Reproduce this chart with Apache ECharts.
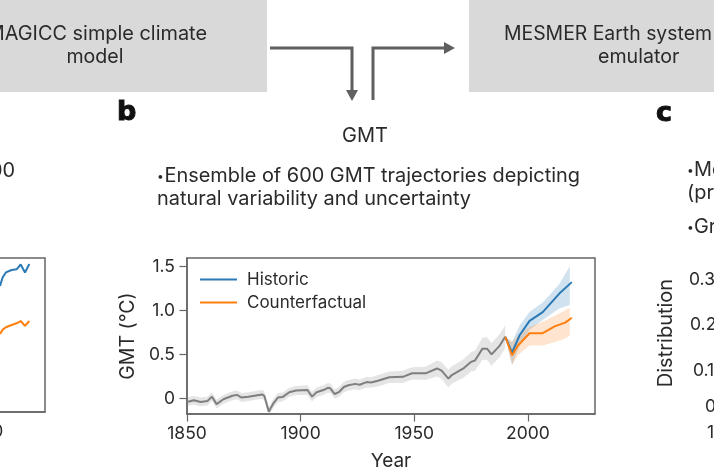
<!DOCTYPE html>
<html><head><meta charset="utf-8">
<style>html,body{margin:0;padding:0;background:#fff}#c{width:714px;height:471px}</style>
<script src="https://cdn.jsdelivr.net/npm/echarts@6/dist/echarts.min.js"></script>
</head><body><div id="c"></div>
<script>
const greyYears=[1850,1853,1856,1859,1861,1863,1866,1870,1872,1874,1877,1883,1884,1886,1888,1890,1892,1895,1898,1903,1905,1907,1910,1912,1913,1915,1917,1919,1921,1924,1926,1929,1931,1934,1939,1945,1949,1955,1960,1962,1965,1966.5,1971.6,1975,1976.7,1980,1982,1984,1987.6,1990];
const greyMean=[-0.04,-0.02,-0.04,-0.03,0.02,-0.065,-0.01,0.03,0.04,0.01,0.02,0.045,0.03,-0.15,-0.055,0.01,0.015,0.07,0.09,0.095,0.02,0.07,0.095,0.12,0.115,0.05,0.075,0.13,0.15,0.165,0.155,0.185,0.18,0.2,0.24,0.245,0.285,0.285,0.34,0.315,0.225,0.265,0.34,0.415,0.43,0.565,0.565,0.5,0.6,0.7];
const greyLow=[-0.09,-0.07,-0.09,-0.08,-0.03,-0.115,-0.06,-0.02,-0.01,-0.04,-0.03,-0.005,-0.02,-0.2,-0.105,-0.04,-0.035,0.02,0.04,0.04,-0.035,0.015,0.04,0.065,0.06,-0.005,0.02,0.07,0.09,0.105,0.095,0.125,0.12,0.135,0.175,0.175,0.215,0.21,0.25,0.22,0.125,0.165,0.235,0.305,0.315,0.44,0.435,0.37,0.47,0.57];
const greyHigh=[0.01,0.03,0.01,0.02,0.07,-0.015,0.04,0.08,0.09,0.06,0.07,0.095,0.08,-0.1,-0.005,0.06,0.065,0.12,0.14,0.15,0.075,0.125,0.15,0.175,0.17,0.105,0.13,0.19,0.21,0.225,0.215,0.245,0.24,0.265,0.305,0.315,0.355,0.36,0.43,0.41,0.325,0.365,0.445,0.525,0.545,0.69,0.695,0.63,0.73,0.83];
const futureYears=[1990,1993,1996.4,2000.7,2006.5,2013.8,2019.3];
const blueMean=[0.7,0.52,0.72,0.88,0.98,1.19,1.32];
const bandYears=[1990,1993,1996.4,2000.7,2006.5,2013.8,2018.4];
const blueLow=[0.7,0.38,0.6,0.78,0.89,1.02,1.06];
const blueHigh=[0.7,0.64,0.83,0.98,1.09,1.3,1.5];
const orangeYears=[1990,1993,1995.6,2000.7,2006.5,2012,2016.4,2019.3];
const orangeMean=[0.7,0.49,0.6,0.74,0.74,0.82,0.86,0.915];
const orangeBandYears=[1990,1993,1995.6,2000.7,2006.5,2012,2016.4,2018.4];
const orangeLow=[0.7,0.38,0.49,0.6,0.6,0.64,0.68,0.71];
const orangeHigh=[0.7,0.64,0.72,0.81,0.87,0.94,1.0,1.03];
const leftYears=[2008.2,2009.4,2010.8,2013.3,2015.5,2017.3,2019.2,2021.1];
const leftBlue=[1.276,1.375,1.43,1.458,1.465,1.52,1.43,1.525];
const leftOrange=[0.731,0.78,0.807,0.833,0.852,0.878,0.822,0.878];
const xTicks=[1850,1900,1950,2000];
const yTicks=[0,0.5,1,1.5];
const yLabels={0:'0',0.5:'0.5',1:'1.0',1.5:'1.5'};
const rightTicks=[['0.3',689,280],['0.2',690,325],['0.1',693,371],['0',705,407],['1',707,433]];

const FONT='Inter';
const AX='#666666', TXT='#2a2a2a', BLUE='#2a7ab5', ORANGE='#ff7f0e', GREY='#7f7f7f';
const zip=(x,y)=>x.map((v,i)=>[v,y[i]]);
function band(name,xs,lo,hi,color,op){
  return {name,type:'custom',coordinateSystem:'cartesian2d',xAxisIndex:0,yAxisIndex:0,silent:true,z:2,
    data:xs.map((x,i)=>[x,lo[i],hi[i]]),encode:{x:0,y:[1,2]},clip:true,
    renderItem(params,api){
      if(params.dataIndex!==0) return null;
      const up=xs.map((x,i)=>api.coord([x,hi[i]]));
      const dn=xs.map((x,i)=>api.coord([x,lo[i]])).reverse();
      return {type:'polygon',shape:{points:up.concat(dn)},style:{fill:color,opacity:op}};
    }};
}
const ln=(name,xs,ys,color,xi,z)=>({name,type:'line',data:zip(xs,ys),symbol:'none',itemStyle:{color},lineStyle:{color,width:2},z:z||3,xAxisIndex:xi,yAxisIndex:xi});
const txt=(t,x,y,size,extra)=>({type:'text',x,y,silent:true,style:Object.assign({text:t,fontFamily:FONT,fontSize:size,fill:TXT,textAlign:'left',textVerticalAlign:'middle'},extra||{})});
const poly=(pts)=>({type:'polyline',silent:true,shape:{points:pts},style:{stroke:'#5f5f5f',lineWidth:3,fill:null}});
const head=(pts)=>({type:'polygon',silent:true,shape:{points:pts},style:{fill:'#5f5f5f'}});

const chart=echarts.init(document.getElementById('c'),null,{renderer:'canvas'});
const axisCommon={axisLine:{show:true,onZero:false,lineStyle:{color:AX,width:1.5}},splitLine:{show:false}};
const tickStyle={show:true,length:7.5,lineStyle:{color:AX,width:1.2}};
const xTickFont={color:TXT,fontSize:17.5,fontFamily:FONT,margin:11};
const yTickFont={color:TXT,fontSize:17.5,fontFamily:FONT,margin:12};
chart.setOption({
  animation:false,backgroundColor:'#fff',
  textStyle:{fontFamily:FONT},
  grid:[
    {left:187,top:258,width:408,height:156,show:true,borderColor:AX,borderWidth:1.5,outerBoundsMode:'none'},
    {left:-359.6,top:258,width:404.6,height:154,show:true,borderColor:AX,borderWidth:1.5,outerBoundsMode:'none'}
  ],
  xAxis:[
    Object.assign({},axisCommon,{type:'value',gridIndex:0,min:1850,max:2029.5,interval:50,
      axisTick:Object.assign({customValues:xTicks},tickStyle),
      axisLabel:Object.assign({customValues:xTicks,formatter:v=>String(v)},xTickFont),
      name:'Year',nameLocation:'middle',nameGap:38,nameTextStyle:{color:TXT,fontSize:19,fontFamily:FONT}}),
    Object.assign({},axisCommon,{type:'value',gridIndex:1,min:1850,max:2028,interval:50,
      axisTick:Object.assign({customValues:xTicks},tickStyle),
      axisLabel:Object.assign({customValues:xTicks,formatter:v=>String(v),hideOverlap:false},xTickFont)})
  ],
  yAxis:[
    Object.assign({},axisCommon,{type:'value',gridIndex:0,min:-0.177,max:1.594,
      axisTick:Object.assign({customValues:yTicks},tickStyle),
      axisLabel:Object.assign({customValues:yTicks,formatter:v=>yLabels[v]},yTickFont),
      name:'GMT (°C)',nameLocation:'middle',nameRotate:90,nameGap:49,nameTextStyle:{color:TXT,fontSize:19.5,fontFamily:FONT}}),
    Object.assign({},axisCommon,{type:'value',gridIndex:1,min:-0.156,max:1.594,axisTick:{show:false},axisLabel:{show:false}})
  ],
  legend:{show:true,data:['Historic','Counterfactual'],orient:'vertical',left:195,top:266,itemWidth:37,itemHeight:2,itemGap:6,icon:'rect',
    textStyle:{color:TXT,fontSize:17,fontFamily:FONT,padding:[0,0,0,5]},selectedMode:false},
  series:[
    band('grey band',greyYears,greyLow,greyHigh,'#7f7f7f',0.2),
    band('blue band',bandYears,blueLow,blueHigh,BLUE,0.22),
    band('orange band',orangeBandYears,orangeLow,orangeHigh,ORANGE,0.2),
    ln('grey line',greyYears,greyMean,GREY,0,3),
    ln('Historic',futureYears,blueMean,BLUE,0,4),
    ln('Counterfactual',orangeYears,orangeMean,ORANGE,0,5),
    ln('left blue',leftYears,leftBlue,BLUE,1,4),
    ln('left orange',leftYears,leftOrange,ORANGE,1,4)
  ],
  graphic:{elements:[
    {type:'rect',silent:true,z:-1,shape:{x:0,y:0,width:267,height:92},style:{fill:'#d9d9d9'}},
    {type:'rect',silent:true,z:-1,shape:{x:469,y:0,width:245,height:92},style:{fill:'#d9d9d9'}},
    txt('MAGICC simple climate',207,34,19.9,{textAlign:'right'}),
    txt('model',95,57,19.6,{textAlign:'center'}),
    txt('MESMER Earth system',504,34,19.4),
    txt('emulator',598,57,19.6),
    poly([[270,48],[352,48],[352,92]]),
    head([[346,90],[358,90],[352,101]]),
    poly([[373,100],[373,48],[446,48]]),
    head([[444,42],[444,54],[455,48]]),
    txt('b',117,113,27,{fontWeight:900,fontFamily:'"DejaVu Sans"',fill:'#111',stroke:'#111',lineWidth:1}),
    txt('c',656,114,27,{fontWeight:900,fontFamily:'"DejaVu Sans"',fill:'#111',stroke:'#111',lineWidth:1}),
    txt('GMT',365,136,20,{textAlign:'center'}),
    txt('•',157,176,12),
    txt('Ensemble of 600 GMT trajectories depicting',164.5,176,19.9),
    txt('natural variability and uncertainty',157,199,19.9),
    txt('00',15,171,19.9,{textAlign:'right'}),
    txt('•',687,170,12),
    txt('Mo',694,170,19.9),
    txt('(pr',687,193,19.9),
    txt('•',687,227,12),
    txt('Gr',694,227,19.9),
    ...rightTicks.map(r=>txt(r[0],r[1],r[2],17.5)),
    {type:'text',silent:true,x:666,y:333,rotation:Math.PI/2,style:{text:'Distribution',fontFamily:FONT,fontSize:20,fill:TXT,textAlign:'center',textVerticalAlign:'middle'}}
  ]}
});
</script></body></html>
